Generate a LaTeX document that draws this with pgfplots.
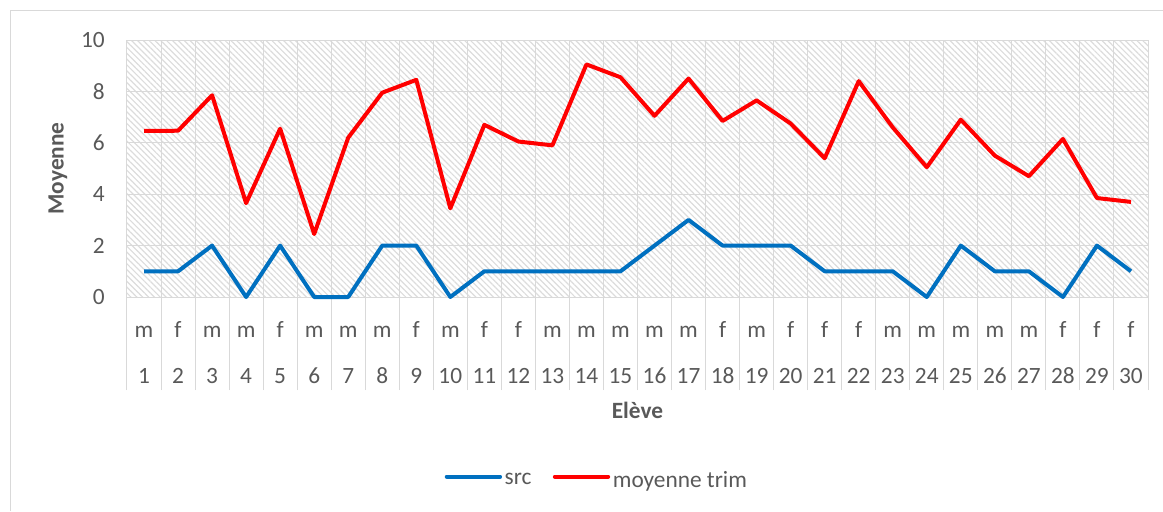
\documentclass[border=0pt]{standalone}
\usepackage{fontspec}
\setmainfont{Carlito}
\usepackage{pgfplots}
\usepackage{pgfplotstable}
\pgfplotsset{compat=1.18}
\usetikzlibrary{patterns.meta}
\definecolor{txt}{HTML}{595959}
\definecolor{gridc}{HTML}{D9D9D9}
\definecolor{hatch}{HTML}{DCDCDC}
\definecolor{sblue}{HTML}{0070C0}
\definecolor{sred}{HTML}{FF0000}

\pgfplotstableread{
x src moy
1 1 6.46
2 1 6.47
3 2 7.85
4 0 3.65
5 2 6.55
6 0 2.45
7 0 6.2
8 2 7.95
9 2 8.45
10 0 3.45
11 1 6.7
12 1 6.05
13 1 5.9
14 1 9.05
15 1 8.55
16 2 7.05
17 3 8.5
18 2 6.85
19 2 7.65
20 2 6.75
21 1 5.4
22 1 8.4
23 1 6.6
24 0 5.05
25 2 6.9
26 1 5.5
27 1 4.7
28 0 6.15
29 2 3.85
30 1 3.7
}\data

\newcommand{\lblfont}{\fontsize{17.5}{20}\selectfont}

\begin{document}
\begin{tikzpicture}
\path[use as bounding box] (0,0) rectangle (872.25pt,383.25pt);
\draw[gridc, line width=0.75pt] (7.5pt,0) -- (7.5pt,375pt) -- (872.25pt,375pt);
\begin{axis}[
  at={(95.25pt,160.5pt)}, anchor=south west,
  scale only axis, width=765.75pt, height=192.75pt,
  xmin=0.5, xmax=30.5, ymin=0, ymax=10,
  clip=false,
  axis background/.style={pattern={Lines[angle=-45,distance=3.1pt,line width=0.9pt]}, pattern color=hatch},
  axis line style={gridc, line width=0.75pt},
  tick pos=left, tick align=outside,
  major tick length=0pt,
  minor tick length=69.75pt,
  tick style={gridc, line width=0.75pt},
  ytick={0,2,...,10},
  ymajorgrids,
  major grid style={gridc, line width=0.75pt},
  xtick={1,...,30},
  xticklabels={m,f,m,m,f,m,m,m,f,m,f,f,m,m,m,m,m,f,m,f,f,f,m,m,m,m,m,f,f,f},
  minor xtick={0.5,1.5,...,30.5},
  xminorgrids,
  minor grid style={gridc, line width=0.75pt},
  extra x ticks={1,...,30},
  extra x tick labels={1,2,3,4,5,6,7,8,9,10,11,12,13,14,15,16,17,18,19,20,21,22,23,24,25,26,27,28,29,30},
  extra x tick style={grid=none, major tick length=0pt, xticklabel style={yshift=-34.5pt}},
  xticklabel style={anchor=base, yshift=-30pt},
  yticklabel style={anchor=east, inner sep=0pt, xshift=-16.5pt},
  ticklabel style={font=\lblfont, text=txt},
  /pgf/number format/assume math mode=true,
  xlabel={\textbf{Elève}},
  xlabel style={at={(axis description cs:0.5,-0.4397)}, anchor=center, font=\lblfont, text=txt},
  ylabel={\textbf{Moyenne}},
  ylabel style={at={(axis description cs:-0.0676,0.5)}, anchor=center, font=\lblfont, text=txt},
  legend style={at={(axis description cs:0.4605,-0.712)}, anchor=center, draw=none, fill=none,
    legend columns=2, font=\lblfont, text=txt,
    nodes={yshift=-2.5pt},
    /tikz/every even column/.append style={column sep=14pt}},
  legend cell align=left,
  legend image code/.code={\draw[#1, line width=3pt, line cap=round] (0pt,0pt) -- (40pt,0pt);},
]
\addplot[sblue, line width=3pt, line join=round] table[x=x, y=src] {\data};
\addlegendentry{src}
\addplot[sred, line width=3pt, line join=round] table[x=x, y=moy] {\data};
\addlegendentry{moyenne trim}
\end{axis}
\end{tikzpicture}
\end{document}
